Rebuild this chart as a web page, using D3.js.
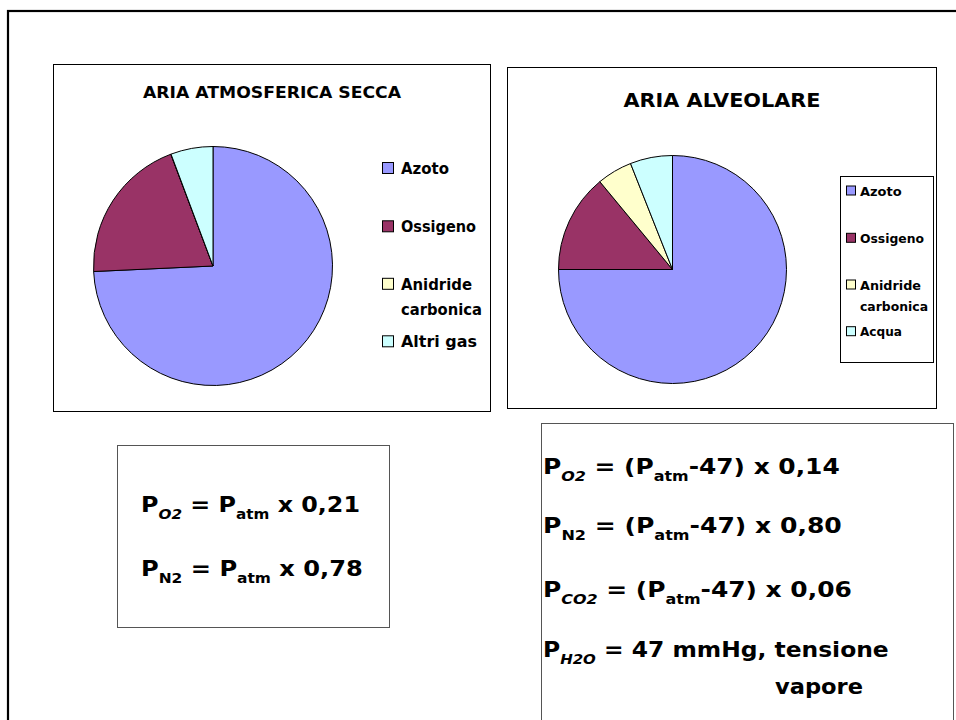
<!DOCTYPE html>
<html>
<head>
<meta charset="utf-8">
<script src="https://cdn.jsdelivr.net/npm/d3@7"></script>
<style>
  html, body { margin: 0; padding: 0; background: #fff; }
  svg { display: block; }
  text { font-family: "Comic Sans MS", "DejaVu Sans", sans-serif; font-weight: bold; fill: #000; }
</style>
</head>
<body>
<svg id="chart" width="956" height="720"></svg>
<script>
// ---------- data ----------
const categoriesAtm = ["Azoto", "Ossigeno", "Anidride carbonica", "Altri gas"];
const valuesAtm = [78, 21, 0.03, 6];
const categoriesAlv = ["Azoto", "Ossigeno", "Anidride carbonica", "Acqua"];
const valuesAlv = [75, 14, 5, 6];
const sliceColors = ["#9999FF", "#993366", "#FFFFCC", "#CCFFFF"];
const titleAtm = "ARIA ATMOSFERICA SECCA";
const titleAlv = "ARIA ALVEOLARE";
// formula lines: segments [text, style]  (n = normal, s = subscript, si = italic subscript)
const formulasAtm = [
  [["P", "n"], ["O2", "si"], [" = P", "n"], ["atm", "s"], [" x 0,21", "n"]],
  [["P", "n"], ["N2", "s"], [" = P", "n"], ["atm", "s"], [" x 0,78", "n"]]
];
const formulasAlv = [
  [["P", "n"], ["O2", "si"], [" = (P", "n"], ["atm", "s"], ["-47) x 0,14", "n"]],
  [["P", "n"], ["N2", "s"], [" = (P", "n"], ["atm", "s"], ["-47) x 0,80", "n"]],
  [["P", "n"], ["CO2", "si"], [" = (P", "n"], ["atm", "s"], ["-47) x 0,06", "n"]],
  [["P", "n"], ["H2O", "si"], [" = 47 mmHg, tensione", "n"]],
  [["vapore", "n"]]
];

// ---------- drawing ----------
const svg = d3.select("#chart");

// outer frame (extends beyond the view on right and bottom)
svg.append("rect").attr("x", 8).attr("y", 11).attr("width", 960).attr("height", 730)
  .attr("fill", "none").attr("stroke", "#000").attr("stroke-width", 2.2);

function fitText(sel, w) {
  if (w) sel.attr("textLength", w).attr("lengthAdjust", "spacingAndGlyphs");
}

function drawPie(cfg) {
  const g = svg.append("g");
  g.append("rect").attr("x", cfg.box[0] + 0.5).attr("y", cfg.box[1] + 0.5)
    .attr("width", cfg.box[2]).attr("height", cfg.box[3])
    .attr("fill", "#fff").attr("stroke", "#000").attr("stroke-width", 1);

  const t = g.append("text").attr("x", cfg.title.x).attr("y", cfg.title.y)
    .attr("text-anchor", "middle").style("font-size", cfg.title.size + "px").text(cfg.titleText);
  fitText(t, cfg.title.w);

  const pie = d3.pie().sort(null).startAngle(0).endAngle(2 * Math.PI);
  const arc = d3.arc().innerRadius(0).outerRadius(cfg.r);
  const arcs = pie(cfg.values);
  g.append("g").attr("transform", `translate(${cfg.cx},${cfg.cy})`)
    .selectAll("path").data(arcs).join("path")
    .attr("d", arc)
    .attr("fill", (d, i) => sliceColors[i])
    .attr("stroke", "#000").attr("stroke-width", 1).attr("stroke-linejoin", "round");

  const L = cfg.legend;
  if (L.box) {
    g.append("rect").attr("x", L.box[0] + 0.5).attr("y", L.box[1] + 0.5)
      .attr("width", L.box[2]).attr("height", L.box[3])
      .attr("fill", "#fff").attr("stroke", "#000").attr("stroke-width", 1);
  }
  cfg.categories.forEach((c, i) => {
    const cy = L.ys[i];
    g.append("rect").attr("x", L.sx + 0.5).attr("y", cy - L.sq / 2 + 0.5)
      .attr("width", L.sq).attr("height", L.sq)
      .attr("fill", sliceColors[i]).attr("stroke", "#000").attr("stroke-width", 1);
    const lines = c.length > 12 ? c.split(" ") : [c];
    lines.forEach((wd, k) => {
      const tt = g.append("text").attr("x", L.tx).attr("y", cy + L.dy + k * L.lh)
        .style("font-size", L.size + "px").text(wd);
      fitText(tt, L.widths[wd]);
    });
  });
}

drawPie({
  box: [53, 64, 437, 347],
  titleText: titleAtm,
  title: { x: 272, y: 98, size: 15, w: 258 },
  cx: 213, cy: 266, r: 119.5,
  values: valuesAtm, categories: categoriesAtm,
  legend: {
    box: null, sx: 382, sq: 11, tx: 401, dy: 6.5, lh: 25, size: 15,
    ys: [167.5, 225.8, 283.3, 340.8],
    widths: { "Azoto": 48, "Ossigeno": 75, "Anidride": 71, "carbonica": 81, "Altri gas": 76 }
  }
});

drawPie({
  box: [507, 67, 429, 341],
  titleText: titleAlv,
  title: { x: 722, y: 106.5, size: 19, w: 197 },
  cx: 672.5, cy: 269.5, r: 114,
  values: valuesAlv, categories: categoriesAlv,
  legend: {
    box: [840, 176, 93, 186], sx: 846, sq: 9, tx: 860, dy: 5.5, lh: 21, size: 13,
    ys: [190, 237.3, 284, 330.7],
    widths: { "Azoto": 41.7, "Ossigeno": 64, "Anidride": 61, "carbonica": 68, "Acqua": 42 }
  }
});

// ---------- formula boxes ----------
function drawFormulas(cfg) {
  const g = svg.append("g");
  g.append("rect").attr("x", cfg.box[0] + 0.5).attr("y", cfg.box[1] + 0.5)
    .attr("width", cfg.box[2]).attr("height", cfg.box[3])
    .attr("fill", "#fff").attr("stroke", "#555").attr("stroke-width", 1);
  cfg.lines.forEach((segs, i) => {
    const pos = cfg.pos[i];
    const lg = g.append("g").attr("transform", `translate(${pos[0]},${pos[1]})`);
    const t = lg.append("text").attr("x", 0).attr("y", 0).style("font-size", cfg.size + "px");
    let shifted = false;
    segs.forEach(([txt, st]) => {
      const sp = t.append("tspan").text(txt);
      if (st === "s" || st === "si") {
        sp.style("font-size", (cfg.size * 0.64) + "px").attr("dy", shifted ? 0 : cfg.subDy);
        if (st === "si") sp.style("font-style", "italic");
        shifted = true;
      } else {
        if (shifted) sp.attr("dy", -cfg.subDy);
        shifted = false;
      }
    });
    const w = t.node().getComputedTextLength();
    const sx = pos[2] / w;
    t.attr("transform", `scale(${sx},1)`);
  });
}

drawFormulas({
  box: [117, 445, 272, 182],
  size: 21, subDy: 7,
  lines: formulasAtm,
  pos: [[141, 512, 219], [141, 576, 222]]
});

drawFormulas({
  box: [541, 423, 412, 320],
  size: 21, subDy: 7,
  lines: formulasAlv,
  pos: [[543, 474, 297], [543, 533, 299], [543, 596.5, 309], [543, 656.5, 346], [775, 694, 88]]
});
</script>
</body>
</html>
